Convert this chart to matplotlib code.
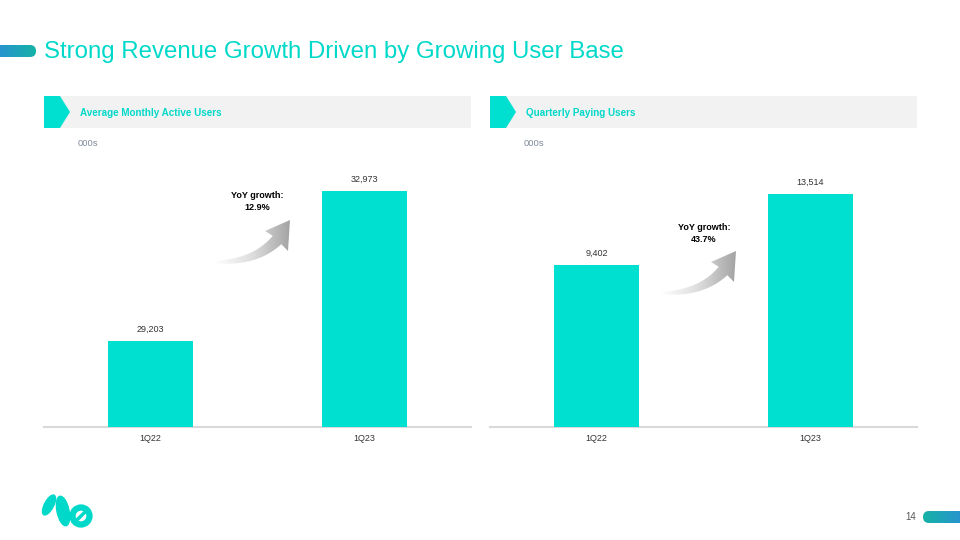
import numpy as np
import matplotlib.pyplot as plt
from matplotlib.patches import Polygon, FancyBboxPatch, Ellipse, Circle
from matplotlib.colors import LinearSegmentedColormap

plt.rcParams['font.family'] = ['Liberation Sans', 'DejaVu Sans']

# data
quarters = ['1Q22', '1Q23']
mau = [29203, 32973]
paying = [9402, 13514]
mau_growth = '12.9%'
paying_growth = '43.7%'

title = 'Strong Revenue Growth Driven by Growing User Base'
panel_titles = ['Average Monthly Active Users', 'Quarterly Paying Users']

TEAL = '#00E0D0'
TEAL_TXT = '#00D9C9'
W, H = 960, 540

fig = plt.figure(figsize=(9.6, 5.4), dpi=100)
bg = fig.add_axes([0, 0, 1, 1])
bg.set_xlim(0, W)
bg.set_ylim(H, 0)
bg.axis('off')

# gradient pills (top left, bottom right)
def pill(x0, y0, w, h, c0, c1):
    p = FancyBboxPatch((x0, y0), w, h, boxstyle='round,pad=0,rounding_size=%f' % (h / 2),
                       fc='none', ec='none')
    bg.add_patch(p)
    cm = LinearSegmentedColormap.from_list('g', [c0, c1])
    im = bg.imshow(np.linspace(0, 1, 100)[None, :], cmap=cm, aspect='auto',
                   extent=(x0, x0 + w, y0 + h, y0), zorder=2)
    im.set_clip_path(p)

pill(-12, 45, 48, 12, '#2D8ADB', '#16B2A6')
pill(923, 511, 50, 12, '#16B2A6', '#2D8ADB')
bg.set_xlim(0, W)
bg.set_ylim(H, 0)

bg.text(44, 52, title, color=TEAL_TXT, fontsize=17.3, va='center', ha='left')
bg.text(916, 517, '14', color='#555555', fontsize=7, va='center', ha='right')

# logo (rough)
bg.add_patch(Ellipse((49, 505), 9, 22, angle=28, color='#00D9C9'))
bg.add_patch(Ellipse((63, 511), 12, 30, angle=-12, color='#00D9C9'))
bg.add_patch(Circle((81, 516), 8.5, fc='none', ec='#00D9C9', lw=4.5))
bg.plot([77, 86], [520, 511], color='#00D9C9', lw=2.5)

# panel headers
for x0, name in zip([44, 490], panel_titles):
    bg.add_patch(Polygon([[x0, 96], [x0 + 427, 96], [x0 + 427, 128], [x0, 128]],
                         closed=True, fc='#F2F2F2', ec='none'))
    bg.add_patch(Polygon([[x0, 96], [x0 + 16, 96], [x0 + 26, 112], [x0 + 16, 128], [x0, 128]],
                         closed=True, fc=TEAL, ec='none'))
    bg.text(x0 + 36, 112.5, name, color=TEAL_TXT, fontsize=7.1, fontweight='bold',
            va='center', ha='left')
    bg.text(x0 + 34, 143, '000s', color='#7F8A9C', fontsize=6.8, va='center', ha='left')


# curved gray arrow with gradient
def arrow(dx, dy):
    t = np.linspace(0, 1, 40)
    p0 = np.array([214.0, 262.0])
    p1 = np.array([255.0, 263.0])
    p2 = np.array([277.0, 240.0])
    c = ((1 - t) ** 2)[:, None] * p0 + (2 * (1 - t) * t)[:, None] * p1 + (t ** 2)[:, None] * p2
    d = np.gradient(c, axis=0)
    nrm = np.stack([d[:, 1], -d[:, 0]], axis=1)
    nrm /= np.linalg.norm(nrm, axis=1)[:, None]
    hw = 0.8 + 5.2 * t ** 0.8
    up = c + nrm * hw[:, None]
    lo = c - nrm * hw[:, None]
    head = np.array([[265.0, 231.0], [290.0, 220.0], [288.0, 251.0]])
    pts = np.vstack([lo, head[[2]], head[[1]], head[[0]], up[::-1]])
    pts = pts + np.array([dx, dy])
    poly = Polygon(pts, closed=True, fc='none', ec='none')
    bg.add_patch(poly)
    cm = LinearSegmentedColormap.from_list('a', ['#FFFFFF', '#DDDDDD', '#A3A3A3'])
    xs, ys = pts[:, 0], pts[:, 1]
    im = bg.imshow(np.linspace(0, 1, 100)[None, :], cmap=cm, aspect='auto',
                   extent=(xs.min(), xs.max(), ys.max(), ys.min()), zorder=2)
    im.set_clip_path(poly)

arrow(0, 0)
arrow(446, 31)
bg.set_xlim(0, W)
bg.set_ylim(H, 0)

bg.text(257, 196, 'YoY growth:', fontsize=6.5, fontweight='bold', ha='center', va='center')
bg.text(257, 207, mau_growth, fontsize=6.5, fontweight='bold', ha='center', va='center')
bg.text(704, 228, 'YoY growth:', fontsize=6.5, fontweight='bold', ha='center', va='center')
bg.text(704, 239, paying_growth, fontsize=6.5, fontweight='bold', ha='center', va='center')


# bar panels
def panel(x0, vals, ylim):
    ax = fig.add_axes([x0 / W, (H - 427) / H, 427 / W, (427 - 160) / H])
    ax.set_facecolor('none')
    x = np.arange(len(vals))
    bars = ax.bar(x, vals, width=0.4, color=TEAL, zorder=3)
    ax.set_xlim(-0.5, 1.5)
    ax.set_ylim(*ylim)
    for s in ['top', 'left', 'right']:
        ax.spines[s].set_visible(False)
    ax.spines['bottom'].set_color('#D9D9D9')
    ax.spines['bottom'].set_linewidth(1.5)
    ax.set_yticks([])
    ax.set_xticks(x)
    ax.set_xticklabels(quarters, fontsize=6.5, color='#333333')
    ax.tick_params(axis='x', length=0, pad=5)
    for b, v in zip(bars, vals):
        ax.annotate(f'{v:,}', (b.get_x() + b.get_width() / 2, v), xytext=(0, 5),
                    textcoords='offset points', ha='center', va='bottom',
                    fontsize=6.5, color='#333333')
    return ax

panel(44, mau, (27040, 33750))
panel(490, paying, (0, 15490))

fig.savefig('out.png', dpi=100, facecolor='white')
